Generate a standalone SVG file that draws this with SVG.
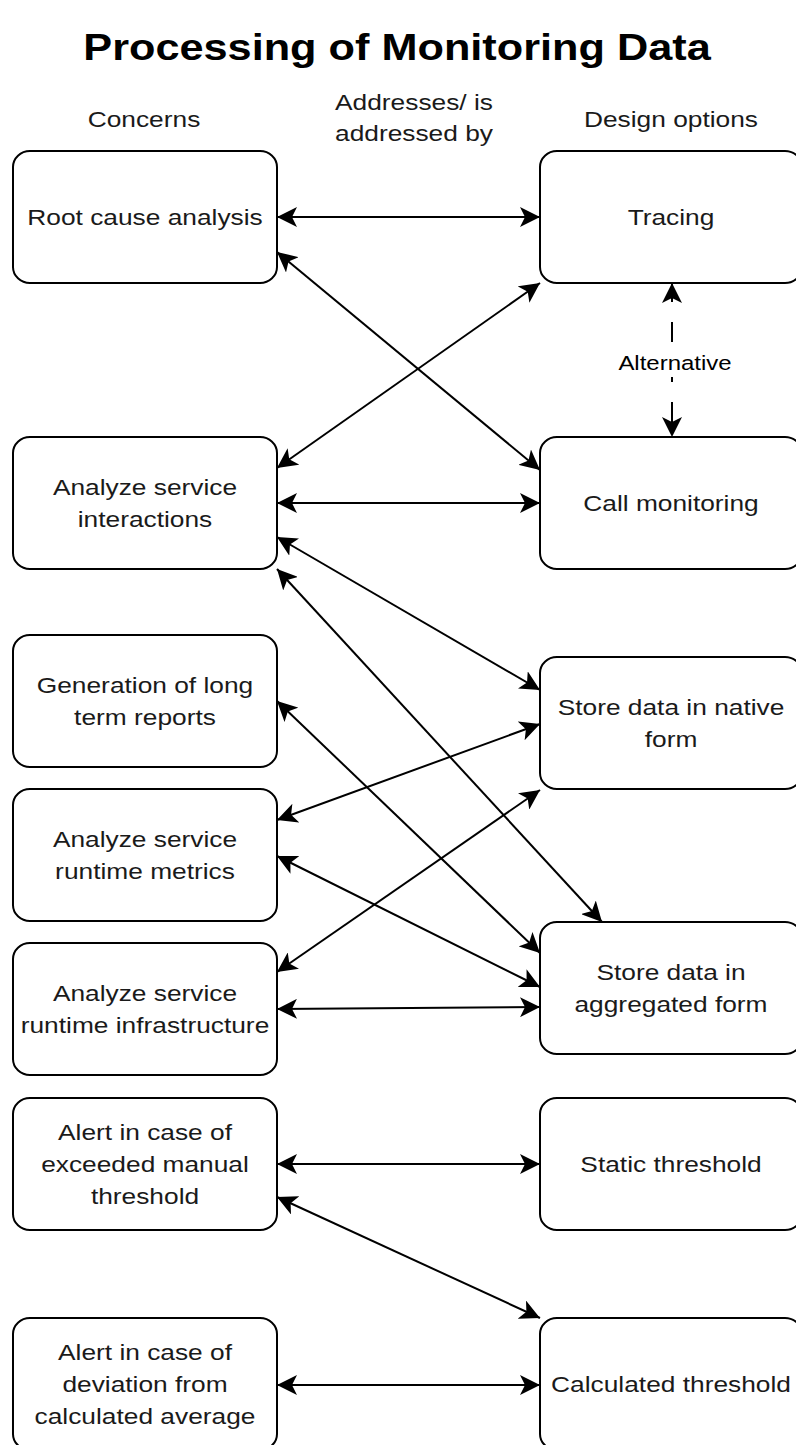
<svg xmlns="http://www.w3.org/2000/svg" width="796" height="1445" viewBox="0 0 796 1445">
<style>
  .bg { fill: #ffffff; }
  .node rect { fill: #ffffff; stroke: #000000; stroke-width: 2; }
  .t { font-family: "Liberation Sans", Arial, sans-serif; font-size: 22.5px; fill: #1a1a1a; text-anchor: middle; }
  .title { font-family: "Liberation Sans", Arial, sans-serif; font-size: 37px; font-weight: bold; fill: #000000; text-anchor: middle; }
  .lbl { font-family: "Liberation Sans", Arial, sans-serif; font-size: 20.5px; fill: #000000; text-anchor: middle; }
  .edge { fill: none; stroke: #000000; stroke-width: 2; marker-start: url(#arr); marker-end: url(#arr); }
  .dash { stroke-dasharray: 20 20; stroke-dashoffset: 1; }
</style>
<defs>
  <marker id="arr" viewBox="0 0 20 20" refX="20" refY="10" markerWidth="20" markerHeight="20" markerUnits="userSpaceOnUse" orient="auto-start-reverse">
    <path d="M0,0 L20,10 L0,20 L5,10 Z" fill="#000000"/>
  </marker>
</defs>
<rect class="bg" x="0" y="0" width="796" height="1445"/>

<g id="headers">
  <text class="title" transform="translate(397,0) scale(1.17,1)"><tspan x="0" y="60">Processing of Monitoring Data</tspan></text>
  <text class="t" transform="translate(144,0) scale(1.17,1)"><tspan x="0" y="127">Concerns</tspan></text>
  <text class="t" transform="translate(414,0) scale(1.17,1)"><tspan x="0" y="110">Addresses/ is</tspan><tspan x="0" y="141">addressed by</tspan></text>
  <text class="t" transform="translate(671,0) scale(1.17,1)"><tspan x="0" y="127">Design options</tspan></text>
</g>

<g id="connectors">
  <line class="edge" x1="277" y1="217" x2="540" y2="217"/>
  <line class="edge" x1="277" y1="252" x2="540" y2="470"/>
  <line class="edge" x1="277" y1="468" x2="540" y2="283"/>
  <line class="edge" x1="277" y1="503" x2="540" y2="503"/>
  <line class="edge" x1="277" y1="537" x2="540" y2="690"/>
  <line class="edge" x1="277" y1="569" x2="602" y2="922"/>
  <line class="edge" x1="277" y1="701" x2="540" y2="953"/>
  <line class="edge" x1="277" y1="820" x2="540" y2="724"/>
  <line class="edge" x1="277" y1="856" x2="540" y2="987"/>
  <line class="edge" x1="277" y1="972" x2="540" y2="790"/>
  <line class="edge" x1="277" y1="1009" x2="540" y2="1007"/>
  <line class="edge" x1="277" y1="1164" x2="540" y2="1164"/>
  <line class="edge" x1="277" y1="1197" x2="540" y2="1318"/>
  <line class="edge" x1="277" y1="1385" x2="540" y2="1385"/>
  <line class="edge dash" x1="672" y1="283" x2="672" y2="437"/>
  <rect x="622" y="349" width="106" height="28" fill="#ffffff"/>
  <text class="lbl" transform="translate(675,0) scale(1.17,1)"><tspan x="0" y="370">Alternative</tspan></text>
</g>

<g id="n-root" class="node">
  <rect x="13" y="151" width="264" height="132" rx="17" ry="16"/>
  <text class="t" transform="translate(145,0) scale(1.17,1)"><tspan x="0" y="225.5">Root cause analysis</tspan></text>
</g>
<g id="n-interactions" class="node">
  <rect x="13" y="437" width="264" height="132" rx="17" ry="16"/>
  <text class="t" transform="translate(145,0) scale(1.17,1)"><tspan x="0" y="495">Analyze service</tspan><tspan x="0" y="527">interactions</tspan></text>
</g>
<g id="n-reports" class="node">
  <rect x="13" y="635" width="264" height="132" rx="17" ry="16"/>
  <text class="t" transform="translate(145,0) scale(1.17,1)"><tspan x="0" y="693.5">Generation of long</tspan><tspan x="0" y="725.5">term reports</tspan></text>
</g>
<g id="n-metrics" class="node">
  <rect x="13" y="789" width="264" height="132" rx="17" ry="16"/>
  <text class="t" transform="translate(145,0) scale(1.17,1)"><tspan x="0" y="847.5">Analyze service</tspan><tspan x="0" y="879.5">runtime metrics</tspan></text>
</g>
<g id="n-infra" class="node">
  <rect x="13" y="943" width="264" height="132" rx="17" ry="16"/>
  <text class="t" transform="translate(145,0) scale(1.17,1)"><tspan x="0" y="1001.5">Analyze service</tspan><tspan x="0" y="1033.5">runtime infrastructure</tspan></text>
</g>
<g id="n-manual" class="node">
  <rect x="13" y="1098" width="264" height="132" rx="17" ry="16"/>
  <text class="t" transform="translate(145,0) scale(1.17,1)"><tspan x="0" y="1140.5">Alert in case of</tspan><tspan x="0" y="1172.5">exceeded manual</tspan><tspan x="0" y="1204.5">threshold</tspan></text>
</g>
<g id="n-deviation" class="node">
  <rect x="13" y="1318" width="264" height="132" rx="17" ry="16"/>
  <text class="t" transform="translate(145,0) scale(1.17,1)"><tspan x="0" y="1360.5">Alert in case of</tspan><tspan x="0" y="1392.5">deviation from</tspan><tspan x="0" y="1424.5">calculated average</tspan></text>
</g>

<g id="n-tracing" class="node">
  <rect x="540" y="151" width="262" height="132" rx="17" ry="16"/>
  <text class="t" transform="translate(671,0) scale(1.17,1)"><tspan x="0" y="225.5">Tracing</tspan></text>
</g>
<g id="n-call" class="node">
  <rect x="540" y="437" width="262" height="132" rx="17" ry="16"/>
  <text class="t" transform="translate(671,0) scale(1.17,1)"><tspan x="0" y="511.5">Call monitoring</tspan></text>
</g>
<g id="n-native" class="node">
  <rect x="540" y="657" width="262" height="132" rx="17" ry="16"/>
  <text class="t" transform="translate(671,0) scale(1.17,1)"><tspan x="0" y="715.5">Store data in native</tspan><tspan x="0" y="747.5">form</tspan></text>
</g>
<g id="n-aggregated" class="node">
  <rect x="540" y="922" width="262" height="132" rx="17" ry="16"/>
  <text class="t" transform="translate(671,0) scale(1.17,1)"><tspan x="0" y="980">Store data in</tspan><tspan x="0" y="1012">aggregated form</tspan></text>
</g>
<g id="n-static" class="node">
  <rect x="540" y="1098" width="262" height="132" rx="17" ry="16"/>
  <text class="t" transform="translate(671,0) scale(1.17,1)"><tspan x="0" y="1172.5">Static threshold</tspan></text>
</g>
<g id="n-calculated" class="node">
  <rect x="540" y="1318" width="262" height="132" rx="17" ry="16"/>
  <text class="t" transform="translate(671,0) scale(1.17,1)"><tspan x="0" y="1392.5">Calculated threshold</tspan></text>
</g>
</svg>
